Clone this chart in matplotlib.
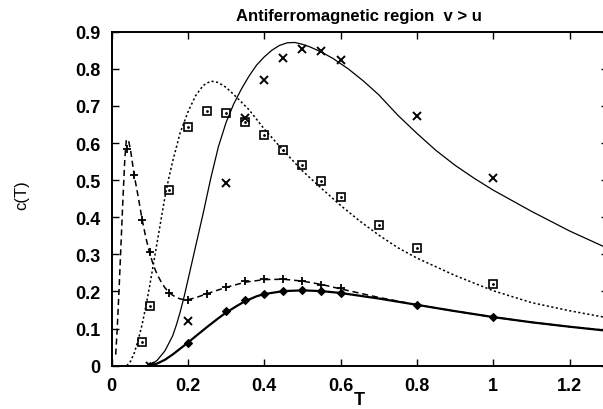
import matplotlib
matplotlib.use("Agg")
import matplotlib.pyplot as plt

plt.rcParams['font.family'] = ['Liberation Sans', 'DejaVu Sans']

# measured points
T_plus = [0.04, 0.06, 0.08, 0.10, 0.15, 0.20, 0.25, 0.30, 0.35, 0.40, 0.45, 0.50, 0.55, 0.60]
c_plus = [0.583, 0.515, 0.393, 0.306, 0.196, 0.178, 0.193, 0.211, 0.227, 0.233, 0.233, 0.228, 0.218, 0.210]

T_box = [0.08, 0.10, 0.15, 0.20, 0.25, 0.30, 0.35, 0.40, 0.45, 0.50, 0.55, 0.60, 0.70, 0.80, 1.00]
c_box = [0.065, 0.160, 0.473, 0.642, 0.686, 0.680, 0.657, 0.621, 0.582, 0.540, 0.497, 0.455, 0.380, 0.317, 0.220]

T_cross = [0.10, 0.20, 0.30, 0.35, 0.40, 0.45, 0.50, 0.55, 0.60, 0.80, 1.00]
c_cross = [0.0, 0.121, 0.492, 0.667, 0.770, 0.829, 0.853, 0.847, 0.825, 0.672, 0.505]

T_diam = [0.10, 0.20, 0.30, 0.35, 0.40, 0.45, 0.50, 0.55, 0.60, 0.80, 1.00]
c_diam = [0.0, 0.060, 0.147, 0.176, 0.192, 0.201, 0.204, 0.201, 0.195, 0.164, 0.130]

# theory curves
T_dash = [0.011, 0.015, 0.02, 0.025, 0.03, 0.035, 0.039, 0.045, 0.05, 0.06, 0.07, 0.08,
          0.09, 0.10, 0.11, 0.12, 0.13, 0.14, 0.15, 0.16, 0.17, 0.18, 0.19, 0.20, 0.22,
          0.25, 0.30, 0.35, 0.40, 0.45, 0.50, 0.55, 0.60, 0.70, 0.80, 0.90, 1.00, 1.10,
          1.20, 1.30]
c_dash = [0.03, 0.10, 0.21, 0.33, 0.45, 0.56, 0.61, 0.605, 0.58, 0.51, 0.455, 0.395,
          0.345, 0.303, 0.27, 0.245, 0.226, 0.21, 0.198, 0.19, 0.184, 0.18, 0.178, 0.178,
          0.183, 0.194, 0.211, 0.225, 0.232, 0.233, 0.228, 0.219, 0.207, 0.184, 0.164,
          0.147, 0.131, 0.117, 0.105, 0.095]

T_dot = [0.04, 0.05, 0.06, 0.07, 0.08, 0.09, 0.10, 0.11, 0.12, 0.13, 0.14, 0.15, 0.16,
         0.18, 0.20, 0.22, 0.24, 0.26, 0.28, 0.30, 0.32, 0.36, 0.40, 0.45, 0.50, 0.55,
         0.60, 0.65, 0.70, 0.75, 0.80, 0.90, 1.00, 1.10, 1.20, 1.30]
c_dot = [0.0, 0.012, 0.035, 0.07, 0.11, 0.16, 0.215, 0.275, 0.335, 0.395, 0.455, 0.505,
         0.55, 0.628, 0.683, 0.727, 0.755, 0.767, 0.763, 0.75, 0.731, 0.69, 0.638, 0.58,
         0.525, 0.478, 0.432, 0.39, 0.352, 0.318, 0.29, 0.243, 0.202, 0.17, 0.148, 0.129]

T_thin = [0.10, 0.12, 0.14, 0.16, 0.17, 0.18, 0.19, 0.20, 0.21, 0.22, 0.23, 0.24, 0.26,
          0.28, 0.30, 0.32, 0.34, 0.36, 0.38, 0.40, 0.42, 0.44, 0.46, 0.48, 0.50, 0.52,
          0.55, 0.58, 0.62, 0.66, 0.70, 0.75, 0.80, 0.85, 0.90, 0.95, 1.00, 1.10, 1.20,
          1.30]
c_thin = [0.0, 0.015, 0.04, 0.08, 0.11, 0.145, 0.185, 0.23, 0.275, 0.32, 0.365, 0.41,
          0.505, 0.59, 0.655, 0.705, 0.745, 0.78, 0.81, 0.832, 0.85, 0.863, 0.87, 0.871,
          0.866, 0.859, 0.845, 0.828, 0.80, 0.767, 0.73, 0.675, 0.626, 0.58, 0.54, 0.505,
          0.473, 0.416, 0.363, 0.316]

T_thick = [0.10, 0.12, 0.14, 0.16, 0.18, 0.20, 0.22, 0.25, 0.28, 0.30, 0.33, 0.35, 0.38,
           0.40, 0.45, 0.50, 0.55, 0.60, 0.70, 0.80, 0.90, 1.00, 1.10, 1.20, 1.30]
c_thick = [0.0, 0.006, 0.016, 0.03, 0.046, 0.062, 0.079, 0.104, 0.128, 0.143, 0.162,
           0.174, 0.187, 0.193, 0.201, 0.203, 0.201, 0.196, 0.181, 0.164, 0.147, 0.131,
           0.117, 0.105, 0.094]

xticks = [0, 0.2, 0.4, 0.6, 0.8, 1.0, 1.2]
xticklabels = ['0', '0.2', '0.4', '0.6', '0.8', '1', '1.2']
yticks = [0, 0.1, 0.2, 0.3, 0.4, 0.5, 0.6, 0.7, 0.8, 0.9]
yticklabels = ['0', '0.1', '0.2', '0.3', '0.4', '0.5', '0.6', '0.7', '0.8', '0.9']

fig = plt.figure(figsize=(6.03, 4.10), dpi=100)
ax = fig.add_axes([111.5 / 603, 43.3 / 410, 496.3 / 603, 334 / 410])

ax.plot(T_dash, c_dash, color='black', lw=1.1, dashes=(4, 2.5))
ax.plot(T_dot, c_dot, color='black', lw=1.1, dashes=(1.4, 1.6))
ax.plot(T_thin, c_thin, color='black', lw=0.9)
ax.plot(T_thick, c_thick, color='black', lw=1.6)

ax.plot(T_plus, c_plus, '+', color='black', ms=6, mew=1.3)
ax.plot(T_box, c_box, 's', color='black', ms=5.5, mew=1.2, mfc='none')
ax.plot(T_box, c_box, '.', color='black', ms=2)
ax.plot(T_cross, c_cross, 'x', color='black', ms=6, mew=1.4)
ax.plot(T_diam, c_diam, 'D', color='black', ms=4, mew=0.8)

ax.set_xlim(0, 1.3)
ax.set_ylim(0, 0.9)
ax.set_xticks(xticks)
ax.set_xticklabels(xticklabels)
ax.set_yticks(yticks)
ax.set_yticklabels(yticklabels)
ax.tick_params(direction='in', top=True, right=True, length=5, width=1,
               labelsize=13, pad=8)
for lab in ax.get_xticklabels() + ax.get_yticklabels():
    lab.set_fontweight('bold')
for sp in ax.spines.values():
    sp.set_linewidth(1.4)

fig.text(359 / 603, 1 - 17 / 410, 'Antiferromagnetic region  v > u',
         ha='center', va='center', fontsize=12, fontweight='bold')
fig.text(359.7 / 603, 1 - 401 / 410, 'T', ha='center', va='center',
         fontsize=13, fontweight='bold')
fig.text(22 / 603, 1 - 195 / 410, 'c(T)', ha='center', va='center',
         rotation=90, fontsize=12)

fig.savefig('out.png', dpi=100)
